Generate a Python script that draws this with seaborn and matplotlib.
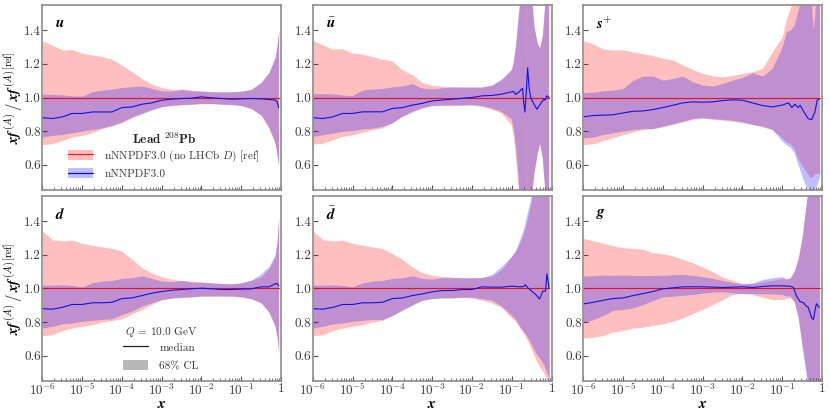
import matplotlib
matplotlib.use("Agg")
import matplotlib.pyplot as plt
import seaborn as sns
from matplotlib.lines import Line2D
from matplotlib.patches import Patch

sns.set_theme(style="ticks")
plt.rcParams['font.family'] = ['cmr10', 'DejaVu Serif']
plt.rcParams['mathtext.fontset'] = 'cm'
plt.rcParams['axes.formatter.use_mathtext'] = True
plt.rcParams['axes.unicode_minus'] = False

# common grid below x=0.1, read every quarter decade
x_head = [1e-6, 1.8e-6, 3.2e-6, 5.6e-6, 1e-5, 1.8e-5, 3.2e-5, 5.6e-5, 1e-4, 1.8e-4, 3.2e-4,
          5.6e-4, 1e-3, 1.8e-3, 3.2e-3, 5.6e-3, 1e-2, 1.8e-2, 3.2e-2, 5.6e-2, 0.1]

# u
u_x = [.178, .316, .5, .708, .794, .871]
u_ref_hi = [1.338, 1.31, 1.283, 1.285, 1.263, 1.253, 1.243, 1.227, 1.193, 1.153, 1.113, 1.08, 1.06, 1.048, 1.05, 1.044, 1.04, 1.034, 1.034, 1.034, 1.036,
            1.048, 1.09, 1.15, 1.24, 1.31, 1.40]
u_ref_lo = [.72, .725, .745, .765, .775, .79, .815, .83, .85, .88, .905, .93, .945, .952, .956, .96, .964, .964, .96, .958, .952,
            .934, .895, .815, .725, .66, .596]
u_new_hi = [1.02, 1.018, 1.016, 1.01, 1.008, 1.034, 1.044, 1.05, 1.06, 1.064, 1.068, 1.054, 1.04, 1.038, 1.048, 1.04, 1.036, 1.034, 1.034, 1.034, 1.038,
            1.048, 1.09, 1.15, 1.24, 1.31, 1.405]
u_new_lo = [.765, .775, .78, .79, .80, .81, .82, .835, .855, .885, .905, .925, .945, .954, .958, .96, .964, .964, .96, .958, .952,
            .934, .895, .82, .73, .66, .59]
u_med_x = u_x
u_med = [.88, .875, .885, .905, .905, .914, .914, .914, .94, .944, .96, .968, .984, .99, .994, .996, 1.004, .998, .994, .99, .992,
         .994, .992, .988, .985, .975, .94]

# ubar, the band blows up past x=0.1
ub_x = [.111, .126, .135, .151, .166, .2, .2265, .2312, .236, .282, .333, .372, .447, .52, .603, .695, .794, .871]
ub_ref_hi = [1.338, 1.31, 1.285, 1.287, 1.262, 1.255, 1.24, 1.225, 1.215, 1.163, 1.133, 1.088, 1.07, 1.064, 1.06, 1.058, 1.058, 1.058, 1.068, 1.10, 1.16,
             1.2, 1.29, 1.36, 1.49, 1.58, 2, 2.5, 2.5, 2.5, 2.0, 1.56, 1.42, 1.32, 1.29, 1.36, 1.55, 1.85, 2]
ub_ref_lo = [.72, .725, .745, .765, .775, .79, .805, .815, .845, .885, .915, .934, .948, .948, .948, .95, .952, .944, .928, .905, .835,
             .78, .66, .58, .44, .2, -.5, -.5, -.5, -.5, -.2, .45, .55, .665, .725, .64, .45, .2, 0]
ub_new_hi = [1.02, 1.02, 1.018, 1.012, 1.008, 1.04, 1.048, 1.05, 1.06, 1.065, 1.08, 1.054, 1.048, 1.054, 1.06, 1.06, 1.06, 1.06, 1.072, 1.107, 1.165,
             1.205, 1.295, 1.365, 1.495, 1.585, 2, 2.5, 1.05, 2.5, 2.0, 1.565, 1.425, 1.325, 1.295, 1.365, 1.555, 1.85, 2]
ub_new_lo = [.765, .775, .785, .795, .80, .81, .815, .825, .845, .885, .91, .935, .95, .953, .953, .953, .955, .95, .935, .915, .87,
             .82, .72, .65, .50, .3, -.5, -.5, .95, -.5, -.2, .445, .545, .66, .72, .635, .445, .2, 0]
ub_med_x = [.112, .126, .148, .178, .186, .2, .215, .234, .251, .275, .303, .363, .43, .501, .575, .631, .692, .766, .871]
ub_med = [.88, .875, .885, .905, .905, .915, .915, .915, .935, .94, .955, .965, .98, .985, .99, .995, 1.0, 1.01, 1.012, 1.02, 1.034,
          1.036, 1.018, 1.03, 1.05, 1.055, .97, .914, 1.05, 1.177, 1.05, .995, .96, .93, .955, .974, .99, .985, 1.01, 1.0]

# s+
s_x = [.126, .158, .2, .251, .316, .398, .501, .562, .603, .661, .724, .794, .871]
s_ref_hi = [1.338, 1.318, 1.287, 1.283, 1.283, 1.27, 1.26, 1.25, 1.233, 1.223, 1.193, 1.167, 1.143, 1.129, 1.123, 1.131, 1.143, 1.153, 1.173, 1.27, 1.36,
            1.46, 1.53, 1.6, 1.7, 1.8, 1.9, 1.9, 1.9, 1.9, 1.9, 1.9, 1.9, 1.9]
s_ref_lo = [.72, .725, .745, .76, .78, .795, .81, .815, .825, .84, .855, .87, .878, .87, .865, .858, .85, .84, .825, .81, .76,
            .735, .727, .695, .635, .595, .56, .525, .53, .535, .545, .55, .55, .55]
s_new_hi = [1.028, 1.032, 1.04, 1.044, 1.054, 1.103, 1.127, 1.127, 1.103, 1.113, 1.127, 1.094, 1.074, 1.068, 1.084, 1.103, 1.119, 1.147, 1.127, 1.173, 1.30,
            1.39, 1.40, 1.43, 1.52, 1.6, 1.75, 1.7, 1.5, 1.40, 1.5, 1.7, 1.9, 2]
s_new_lo = [.76, .765, .78, .79, .80, .81, .815, .815, .83, .845, .86, .875, .88, .875, .87, .865, .855, .84, .83, .81, .74,
            .72, .705, .67, .60, .53, .47, .445, .445, .45, .46, .475, .50, .53]
s_med_x = [.145, .174, .209, .251, .282, .339, .447, .55, .661, .759, .851]
s_med = [.885, .893, .895, .897, .908, .918, .92, .928, .94, .954, .968, .974, .972, .974, .982, .986, .984, .968, .952, .944, .955,
         .968, .94, .96, .94, .954, .92, .875, .868, .914, .984, .99]

# d
d_x = u_x
d_ref_hi = [1.342, 1.29, 1.283, 1.288, 1.268, 1.258, 1.247, 1.238, 1.223, 1.173, 1.123, 1.094, 1.07, 1.054, 1.048, 1.044, 1.04, 1.034, 1.03, 1.028, 1.034,
            1.048, 1.07, 1.12, 1.19, 1.28, 1.42]
d_ref_lo = [.72, .725, .75, .765, .775, .785, .80, .81, .82, .85, .875, .905, .934, .942, .946, .95, .954, .954, .954, .952, .948,
            .938, .914, .855, .775, .715, .615]
d_new_hi = [1.02, 1.02, 1.022, 1.018, 1.01, 1.034, 1.044, 1.048, 1.06, 1.064, 1.076, 1.06, 1.044, 1.04, 1.048, 1.038, 1.036, 1.034, 1.03, 1.028, 1.034,
            1.05, 1.088, 1.133, 1.2, 1.28, 1.43]
d_new_lo = [.765, .775, .79, .795, .805, .81, .817, .82, .845, .865, .895, .915, .934, .944, .948, .95, .956, .956, .956, .956, .952,
            .94, .915, .86, .775, .71, .61]
d_med_x = d_x
d_med = [.88, .877, .888, .905, .905, .915, .915, .918, .94, .944, .958, .972, .982, .99, .994, .998, 1.002, .998, .994, .994, .996,
         .998, 1.01, 1.01, 1.028, 1.03, 1.015]

# dbar
db_x = [.126, .158, .2, .251, .316, .398, .501, .631, .759, .871]
db_ref_hi = [1.342, 1.29, 1.283, 1.288, 1.268, 1.258, 1.247, 1.238, 1.207, 1.173, 1.127, 1.094, 1.078, 1.072, 1.068, 1.064, 1.064, 1.064, 1.074, 1.113, 1.193,
             1.22, 1.27, 1.33, 1.42, 1.53, 1.65, 1.8, 1.9, 1.9, 1.9]
db_ref_lo = [.72, .725, .75, .765, .775, .785, .80, .81, .84, .875, .905, .93, .94, .944, .944, .948, .944, .93, .914, .885, .825,
             .805, .765, .73, .69, .635, .58, .535, .50, .46, .44]
db_new_hi = [1.02, 1.02, 1.022, 1.018, 1.01, 1.034, 1.044, 1.048, 1.06, 1.064, 1.076, 1.06, 1.056, 1.064, 1.064, 1.064, 1.064, 1.066, 1.084, 1.133, 1.193,
             1.23, 1.29, 1.36, 1.46, 1.56, 1.68, 1.8, 1.9, 1.9, 1.9]
db_new_lo = [.765, .775, .79, .795, .805, .81, .817, .815, .84, .87, .90, .93, .94, .944, .944, .948, .948, .94, .93, .895, .84,
             .815, .775, .745, .71, .665, .62, .585, .55, .50, .46]
db_med_x = [.126, .158, .2, .219, .251, .316, .398, .501, .603, .708, .766, .871]
db_med = [.88, .877, .888, .905, .905, .915, .915, .918, .94, .944, .958, .968, .98, .988, .988, .994, .994, 1.01, 1.008, 1.008, 1.014,
          1.012, 1.01, 1.012, 1.022, 1.005, .985, .965, .938, .985, .985, 1.087, 1.0]

# g
g_x = [.126, .158, .2, .251, .316, .372, .427, .501, .631, .871]
g_ref_hi = [1.297, 1.283, 1.27, 1.253, 1.243, 1.239, 1.233, 1.213, 1.207, 1.193, 1.173, 1.153, 1.127, 1.10, 1.068, 1.048, 1.03, 1.028, 1.04, 1.048, 1.06,
            1.055, 1.06, 1.10, 1.18, 1.31, 1.45, 1.56, 1.8, 2, 2]
g_ref_lo = [.705, .71, .72, .742, .75, .765, .77, .78, .79, .805, .825, .85, .875, .905, .934, .964, .97, .964, .948, .934, .934,
            .94, .945, .92, .83, .665, .56, .46, .2, 0, 0]
g_new_hi = [1.074, 1.076, 1.08, 1.078, 1.08, 1.078, 1.076, 1.078, 1.078, 1.082, 1.084, 1.078, 1.07, 1.06, 1.048, 1.036, 1.028, 1.034, 1.054, 1.064, 1.07,
            1.06, 1.065, 1.105, 1.175, 1.30, 1.44, 1.55, 1.8, 2, 2]
g_new_lo = [.795, .815, .84, .87, .875, .885, .905, .928, .95, .954, .96, .964, .972, .978, .98, .974, .97, .97, .968, .968, .964,
            .955, .955, .925, .83, .655, .54, .44, .2, 0, 0]
g_med_x = [.158, .191, .229, .282, .339, .407, .447, .55, .603, .724, .851]
g_med = [.908, .918, .93, .94, .944, .958, .97, .982, .998, 1.004, 1.01, 1.01, 1.01, 1.008, 1.006, 1.008, 1.01, 1.006, 1.012, 1.016, 1.016,
         1.014, 1.006, .954, .922, .916, .894, .89, .826, .815, .91, .887]

labels = [r"$\mathbfit{u}$", r"$\bar{\mathbfit{u}}$", r"$\mathbfit{s}^{+}$",
          r"$\mathbfit{d}$", r"$\bar{\mathbfit{d}}$", r"$\mathbfit{g}$"]
panels = [(u_x, u_ref_hi, u_ref_lo, u_new_hi, u_new_lo, u_med_x, u_med),
          (ub_x, ub_ref_hi, ub_ref_lo, ub_new_hi, ub_new_lo, ub_med_x, ub_med),
          (s_x, s_ref_hi, s_ref_lo, s_new_hi, s_new_lo, s_med_x, s_med),
          (d_x, d_ref_hi, d_ref_lo, d_new_hi, d_new_lo, d_med_x, d_med),
          (db_x, db_ref_hi, db_ref_lo, db_new_hi, db_new_lo, db_med_x, db_med),
          (g_x, g_ref_hi, g_ref_lo, g_new_hi, g_new_lo, g_med_x, g_med)]
x_ticks = [1e-6, 1e-5, 1e-4, 1e-3, 1e-2, 1e-1, 1]
x_ticklabels = ["$10^{-6}$", "$10^{-5}$", "$10^{-4}$", "$10^{-3}$", "$10^{-2}$", "$10^{-1}$", "$1$"]
y_ticks = [0.6, 0.8, 1.0, 1.2, 1.4]
ylabel = r"$\mathbfit{x}\mathbfit{f}^{\,(A)}\,/\,\mathbfit{x}\mathbfit{f}^{\,(A)\,[\mathrm{ref}]}$"

SPINE = "#8c8c8c"
TXT = "#3a3a3a"

fig, axes = plt.subplots(2, 3, figsize=(8.3, 4.15), dpi=100)
fig.subplots_adjust(left=42.3/830, right=822/830, top=1-5/415, bottom=1-381/415,
                    wspace=0.1328, hspace=0.0324)

for i, (ax, p, lab) in enumerate(zip(axes.flat, panels, labels)):
    xt, ref_hi, ref_lo, new_hi, new_lo, xm, med = p
    x = x_head + xt
    ax.set_xscale("log")
    ax.fill_between(x, ref_lo, ref_hi, color="red", alpha=0.25, lw=0)
    ax.fill_between(x, new_lo, new_hi, color="blue", alpha=0.25, lw=0)
    sns.lineplot(x=x, y=[1.0]*len(x), color="#e0101c", lw=0.8, ax=ax, estimator=None, sort=False)
    sns.lineplot(x=x_head + xm, y=med, color="#1010e8", lw=0.8, ax=ax, estimator=None, sort=False)
    ax.set_xlim(1e-6, 1)
    ax.set_ylim(0.45, 1.55)
    ax.set_xticks(x_ticks)
    ax.set_yticks(y_ticks)
    ax.set_yticklabels(["%.1f" % v for v in y_ticks])
    if i >= 3:
        ax.set_xticklabels(x_ticklabels)
        ax.set_xlabel(r"$\mathbfit{x}$", fontsize=11, color="black", labelpad=-1)
    else:
        ax.set_xticklabels([])
        ax.set_xlabel("")
    if i % 3 == 0:
        ax.set_ylabel(ylabel, fontsize=10.5, color="black", labelpad=-0.5)
    else:
        ax.set_ylabel("")
    ax.tick_params(which="major", direction="in", length=3.5, width=0.8, color="#555555",
                   labelsize=9.5, labelcolor=TXT, pad=1)
    ax.tick_params(which="minor", direction="in", length=2, width=0.6, color="#555555")
    ax.xaxis.set_minor_locator(matplotlib.ticker.LogLocator(base=10, subs=range(2, 10), numticks=12))
    ax.xaxis.set_minor_formatter(matplotlib.ticker.NullFormatter())
    for s in ax.spines.values():
        s.set_color(SPINE)
        s.set_linewidth(1.2)
    ax.text(0.055, 0.9, lab, transform=ax.transAxes, fontsize=11, color="black", va="center")

leg1 = axes[0, 0].legend(
    handles=[(Patch(color="red", alpha=0.25, lw=0), Line2D([], [], color="#f02020", lw=0.9)),
             (Patch(color="blue", alpha=0.25, lw=0), Line2D([], [], color="blue", lw=0.9))],
    labels=["nNNPDF3.0 (no LHCb $D$) [ref]", "nNNPDF3.0"],
    title=r"$\mathbf{Lead}\ ^{208}\mathbf{Pb}$",
    loc="lower left", bbox_to_anchor=(0.09, 0.035), frameon=False, fontsize=8.1,
    title_fontsize=9.5, handlelength=2.2, handleheight=1.0, handletextpad=1.0, labelspacing=0.4,
    borderaxespad=0, labelcolor=TXT)
leg1._legend_box.sep = 1

leg2 = axes[1, 0].legend(
    handles=[Line2D([], [], color="#222222", lw=0.9), Patch(color="#b8b8b8", lw=0)],
    labels=["median", "68% CL"],
    title="$Q$ = 10.0 GeV",
    loc="lower left", bbox_to_anchor=(0.32, 0.03), frameon=False, fontsize=8.1,
    title_fontsize=8.1, handlelength=2.2, handleheight=1.0, handletextpad=1.0, labelspacing=0.65,
    borderaxespad=0, labelcolor=TXT)
leg2._legend_box.sep = 2
leg2.get_title().set_color(TXT)

fig.savefig("out.png", dpi=100)
